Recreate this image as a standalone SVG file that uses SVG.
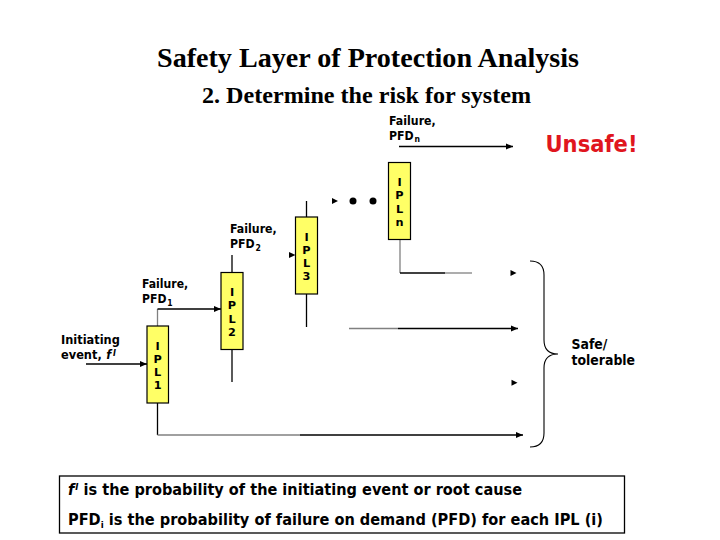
<svg xmlns="http://www.w3.org/2000/svg" width="720" height="540" viewBox="0 0 720 540">
<style>
.title{font-family:"Liberation Serif","Times New Roman",serif;font-weight:bold;fill:#000}
.lbl{font-family:"DejaVu Sans",Verdana,sans-serif;font-weight:bold;font-size:12.8px;fill:#000}
.big{font-size:13.6px}
.sb{font-size:9px}
.it{font-style:italic}
.box{fill:#ffff66;stroke:#000;stroke-width:1.2}
.bl{font-family:"DejaVu Sans",Verdana,sans-serif;font-weight:bold;font-size:11.3px;fill:#000;text-anchor:middle}
.ln{fill:none;stroke:#000;stroke-width:1.3}
.gr{fill:none;stroke:#808080;stroke-width:1.3}
.head{fill:#000}
.note{font-family:"DejaVu Sans",Verdana,sans-serif;font-weight:bold;font-size:15px;fill:#000}
</style>
<defs>
<marker id="ah" markerWidth="8" markerHeight="7" refX="7" refY="3.5" orient="auto" markerUnits="userSpaceOnUse"><path d="M0,0.5 L7,3.5 L0,6.5 z" fill="#000"/></marker>
</defs>
<rect width="720" height="540" fill="#fff"/>
<g id="titles">
<text class="title" x="157" y="67" font-size="28" textLength="422" lengthAdjust="spacingAndGlyphs">Safety Layer of Protection Analysis</text>
<text class="title" x="202" y="103" font-size="24" textLength="329" lengthAdjust="spacingAndGlyphs">2. Determine the risk for system</text>
</g>
<g id="connectors">
<path class="ln" d="M86,364 H147" marker-end="url(#ah)"/>
<path class="gr" d="M157.5,326 V309"/>
<path class="ln" d="M157.5,309 H221" marker-end="url(#ah)"/>
<path class="ln" d="M157.5,403 V435"/>
<path class="gr" d="M157.5,435 H300"/>
<path class="ln" d="M300,435 H523" marker-end="url(#ah)"/>
<path class="ln" d="M232,272.5 V255"/>
<path class="head" d="M289,252 L295.5,255 L289,258 z"/>
<path class="ln" d="M232,349.5 V382"/>
<path class="head" d="M511.5,379.7 L517.5,382.7 L511.5,385.7 z"/>
<path class="ln" d="M306.5,217 V201"/>
<path class="head" d="M332,198 L338,201 L332,204 z"/>
<circle class="head" cx="353" cy="201" r="3.5"/>
<circle class="head" cx="373" cy="201" r="3.5"/>
<path class="ln" d="M306.5,294 V327"/>
<path class="gr" d="M349,328.5 H398"/>
<path class="ln" d="M398,328.5 H518" marker-end="url(#ah)"/>
<path class="gr" d="M400,239.5 V273"/>
<path class="ln" d="M400,273 H445"/>
<path class="gr" d="M445,273 H472"/>
<path class="head" d="M510.5,270 L516.5,273 L510.5,276 z"/>
<path class="ln" d="M399,146.5 H513" marker-end="url(#ah)"/>
<path fill="none" stroke="#000" stroke-width="1.1" d="M530,261 Q544,261 544,275 L544,340 Q544,354 558,354 Q544,354 544,368 L544,433 Q544,447 530,447"/>
</g>
<g id="ipl1">
<rect class="box" x="147" y="326" width="21.5" height="77"/>
<text class="bl"><tspan x="157.7" y="349.5">I</tspan><tspan x="157.7" dy="13.3">P</tspan><tspan x="157.7" dy="13.3">L</tspan><tspan x="157.7" dy="13.3">1</tspan></text>
</g>
<g id="ipl2">
<rect class="box" x="221" y="272.5" width="22" height="77"/>
<text class="bl"><tspan x="232" y="296">I</tspan><tspan x="232" dy="13.3">P</tspan><tspan x="232" dy="13.3">L</tspan><tspan x="232" dy="13.3">2</tspan></text>
</g>
<g id="ipl3">
<rect class="box" x="295.5" y="217" width="22" height="77"/>
<text class="bl"><tspan x="306.5" y="240.5">I</tspan><tspan x="306.5" dy="13.3">P</tspan><tspan x="306.5" dy="13.3">L</tspan><tspan x="306.5" dy="13.3">3</tspan></text>
</g>
<g id="ipln">
<rect class="box" x="388.5" y="162.5" width="22" height="77"/>
<text class="bl"><tspan x="399.5" y="186">I</tspan><tspan x="399.5" dy="13.3">P</tspan><tspan x="399.5" dy="13.3">L</tspan><tspan x="399.5" dy="13.3">n</tspan></text>
</g>
<g id="labels">
<text class="lbl" transform="translate(61,344) scale(0.89,1)"><tspan x="0" y="0">Initiating</tspan><tspan x="0" y="15">event,</tspan><tspan class="it" dx="5">f</tspan><tspan class="it sb" dx="2" dy="-3">I</tspan></text>
<text class="lbl" transform="translate(142,288) scale(0.85,1)"><tspan x="0" y="0">Failure,</tspan><tspan x="0" y="15">PFD</tspan><tspan class="sb" dx="1" dy="3">1</tspan></text>
<text class="lbl" transform="translate(230,233) scale(0.86,1)"><tspan x="0" y="0">Failure,</tspan><tspan x="0" y="15">PFD</tspan><tspan class="sb" dx="1" dy="3">2</tspan></text>
<text class="lbl" transform="translate(389,125) scale(0.86,1)"><tspan x="0" y="0">Failure,</tspan><tspan x="0" y="15">PFD</tspan><tspan class="sb" dx="1" dy="2">n</tspan></text>
<text x="545.5" y="152" font-family="'DejaVu Sans',Verdana,sans-serif" font-weight="bold" font-size="23" fill="#e0161e" textLength="92" lengthAdjust="spacingAndGlyphs">Unsafe!</text>
<text class="lbl big" transform="translate(571.5,349) scale(0.92,1)"><tspan x="0" y="0">Safe/</tspan><tspan x="0" y="16">tolerable</tspan></text>
</g>
<g id="legend">
<rect x="59.5" y="476" width="565" height="57" fill="none" stroke="#000" stroke-width="1.3"/>
<text class="note" x="68" y="495" textLength="454" lengthAdjust="spacingAndGlyphs"><tspan class="it">f</tspan><tspan class="it sb" dx="1" dy="-5">I</tspan><tspan dy="5"> is the probability of the initiating event or root cause</tspan></text>
<text class="note" x="68" y="525" textLength="535" lengthAdjust="spacingAndGlyphs">PFD<tspan class="sb" dy="3">i</tspan><tspan dy="-3"> is the probability of failure on demand (PFD) for each IPL (i)</tspan></text>
</g>
</svg>
